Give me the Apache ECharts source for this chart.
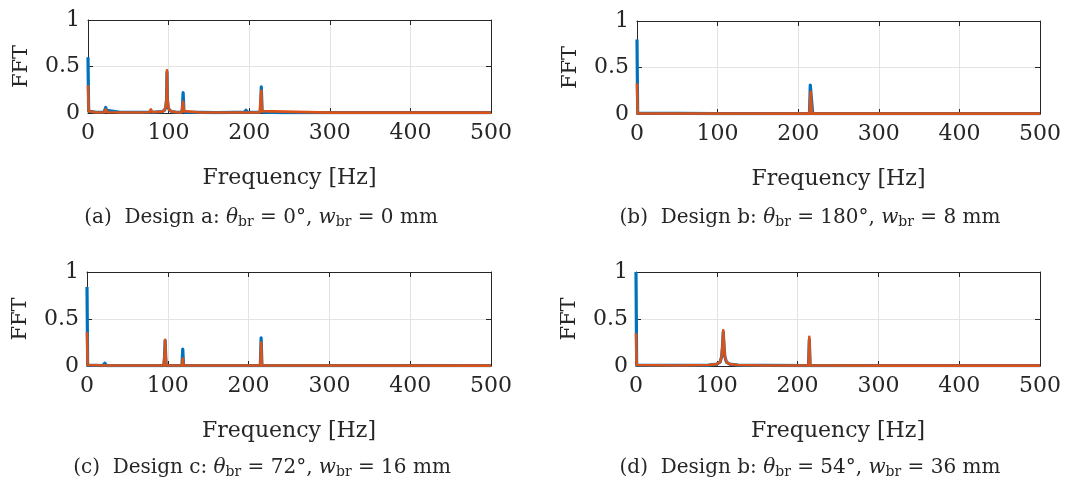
<!DOCTYPE html>
<html>
<head>
<meta charset="utf-8">
<script src="https://cdn.jsdelivr.net/npm/echarts@6/dist/echarts.min.js"></script>
<style>
  html, body { margin: 0; padding: 0; background: #fff; }
  #chart { width: 1091px; height: 486px; }
</style>
</head>
<body>
<div id="chart"></div>
<script>
// FFT amplitude spectra, [frequency Hz, amplitude] pairs per design
const blueA = [[0,0.60],[0.8,0.02],[10,0.008],[20,0.01],[21,0.03],[22,0.06],[23,0.03],[24,0.01],[40,0.006],[60,0.006],[76,0.008],[78,0.02],[80,0.008],[92,0.015],[95,0.03],[96.5,0.06],[97.5,0.15],[98,0.44],[98.5,0.15],[99.5,0.06],[101,0.03],[104,0.015],[110,0.008],[116,0.008],[117,0.03],[118,0.22],[119,0.03],[120,0.008],[140,0.006],[160,0.005],[180,0.006],[194,0.008],[195,0.02],[196,0.03],[197,0.02],[198,0.008],[213,0.008],[214,0.03],[215,0.28],[216,0.03],[217,0.008],[240,0.005],[300,0.005],[311,0.005],[312,0.012],[313,0.005],[400,0.004],[500,0.004]];
const redA = [[0,0.30],[0.8,0.02],[10,0.006],[20,0.008],[21,0.02],[22,0.04],[23,0.02],[24,0.008],[60,0.005],[76,0.008],[77,0.02],[78,0.04],[79,0.02],[80,0.008],[92,0.015],[95,0.03],[96.5,0.07],[97.5,0.16],[98,0.46],[98.5,0.16],[99.5,0.07],[101,0.03],[104,0.015],[110,0.008],[116,0.006],[117,0.02],[118,0.12],[119,0.02],[120,0.006],[140,0.005],[200,0.005],[213,0.006],[214,0.02],[215,0.24],[216,0.02],[217,0.006],[300,0.004],[500,0.004]];

const blueB = [[0,0.80],[0.8,0.01],[100,0.004],[214,0.004],[215,0.31],[217,0.31],[218,0.004],[500,0.004]];
const redB = [[0,0.33],[0.8,0.005],[214,0.004],[215.5,0.24],[217,0.004],[500,0.004]];

const blueC = [[0,0.84],[0.8,0.01],[20,0.005],[21,0.015],[22,0.03],[23,0.015],[24,0.005],[76,0.005],[77,0.01],[78,0.005],[95,0.005],[96,0.1],[96.7,0.27],[97.4,0.1],[98,0.005],[117.5,0.005],[118.5,0.18],[119.5,0.005],[194,0.005],[195,0.015],[196,0.005],[214.5,0.005],[215.5,0.30],[216.5,0.005],[500,0.004]];
const redC = [[0,0.36],[0.8,0.01],[21,0.005],[22,0.025],[23,0.005],[95,0.005],[96,0.1],[96.7,0.28],[97.4,0.1],[98,0.005],[117.5,0.005],[118.5,0.08],[119.5,0.005],[214.5,0.005],[215.5,0.25],[216.5,0.005],[500,0.004]];

const blueD = [[0,1.0],[0.8,0.01],[50,0.006],[90,0.01],[100,0.02],[104,0.04],[106,0.1],[107,0.2],[108,0.36],[109,0.2],[110,0.1],[112,0.04],[116,0.02],[126,0.01],[160,0.006],[213.5,0.005],[214.5,0.28],[215.5,0.005],[500,0.004]];
const redD = [[0,0.35],[0.8,0.01],[50,0.006],[90,0.01],[100,0.02],[104,0.04],[106,0.1],[107,0.22],[108,0.38],[109,0.22],[110,0.1],[112,0.04],[116,0.02],[126,0.01],[160,0.006],[213.5,0.005],[214.5,0.31],[215.5,0.005],[322,0.004],[323,0.015],[324,0.004],[500,0.004]];

// caption parts per panel: [letter, design, angle, width]
const captions = [
  ['(a)', 'Design a:', '0°', '0 mm'],
  ['(b)', 'Design b:', '180°', '8 mm'],
  ['(c)', 'Design c:', '72°', '16 mm'],
  ['(d)', 'Design b:', '54°', '36 mm']
];

const xTitle = 'Frequency [Hz]';
const yTitle = 'FFT';

const BLUE = '#0072BD';
const RED = '#D95319';
const INK = '#262626';
const FONT = 'DejaVu Serif';

const panels = [
  { grid: { left: 88, top: 20, width: 403, height: 93 }, blue: blueA, red: redA, cap: [261, 218] },
  { grid: { left: 637, top: 21, width: 403, height: 93 }, blue: blueB, red: redB, cap: [810, 218] },
  { grid: { left: 87, top: 272, width: 404, height: 94 }, blue: blueC, red: redC, cap: [262, 468] },
  { grid: { left: 636, top: 272, width: 404, height: 94 }, blue: blueD, red: redD, cap: [810, 468] }
];

const grid = [], xAxis = [], yAxis = [], series = [], graphic = [];

panels.forEach((p, i) => {
  grid.push(Object.assign({ containLabel: false }, p.grid));
  // bottom x axis with labels
  xAxis.push({
    type: 'value', gridIndex: i, min: 0, max: 500, interval: 100,
    name: xTitle, nameLocation: 'middle', nameGap: 54,
    nameTextStyle: { fontFamily: FONT, fontSize: 22, color: INK },
    axisLine: { show: true, onZero: false, lineStyle: { color: INK, width: 1 } },
    axisTick: { show: true, inside: true, length: 5, lineStyle: { color: INK } },
    axisLabel: { fontFamily: FONT, fontSize: 22, color: INK, margin: 9 },
    splitLine: { show: true, lineStyle: { color: '#e3e3e3', width: 1 } }
  });
  // top box edge
  xAxis.push({
    type: 'value', gridIndex: i, min: 0, max: 500, interval: 100, position: 'top',
    axisLine: { show: true, onZero: false, lineStyle: { color: INK, width: 1 } },
    axisTick: { show: true, inside: true, length: 5, lineStyle: { color: INK } },
    axisLabel: { show: false }, splitLine: { show: false }
  });
  yAxis.push({
    type: 'value', gridIndex: i, min: 0, max: 1, interval: 0.5,
    name: yTitle, nameLocation: 'middle', nameGap: 56, nameRotate: 90,
    nameTextStyle: { fontFamily: FONT, fontSize: 21, color: INK },
    axisLine: { show: true, onZero: false, lineStyle: { color: INK, width: 1 } },
    axisTick: { show: true, inside: true, length: 5, lineStyle: { color: INK } },
    axisLabel: { fontFamily: FONT, fontSize: 22, color: INK, margin: 8 },
    splitLine: { show: true, lineStyle: { color: '#e3e3e3', width: 1 } }
  });
  // right box edge
  yAxis.push({
    type: 'value', gridIndex: i, min: 0, max: 1, interval: 0.5, position: 'right',
    axisLine: { show: true, onZero: false, lineStyle: { color: INK, width: 1 } },
    axisTick: { show: true, inside: true, length: 5, lineStyle: { color: INK } },
    axisLabel: { show: false }, splitLine: { show: false }
  });
  series.push({
    type: 'line', xAxisIndex: 2 * i, yAxisIndex: 2 * i, data: p.blue,
    showSymbol: false, symbol: 'none', clip: true,
    lineStyle: { color: BLUE, width: 3.2, join: 'round' }, z: 3
  });
  series.push({
    type: 'line', xAxisIndex: 2 * i, yAxisIndex: 2 * i, data: p.red,
    showSymbol: false, symbol: 'none', clip: true,
    lineStyle: { color: RED, width: 2.6, join: 'round' }, z: 4
  });
  const c = captions[i];
  graphic.push({
    type: 'text', x: p.cap[0], y: p.cap[1],
    style: {
      text: c[0] + '  ' + c[1] + ' {i|θ}{s|br} = ' + c[2] + ', {i|w}{s|br} = ' + c[3],
      fontFamily: FONT, fontSize: 20, fill: INK,
      align: 'center', verticalAlign: 'middle',
      rich: {
        i: { fontFamily: FONT, fontSize: 20, fontStyle: 'italic', fill: INK },
        s: { fontFamily: FONT, fontSize: 14, fill: INK, verticalAlign: 'bottom', padding: [9, 0, 0, 0] }
      }
    }
  });
});

const chart = echarts.init(document.getElementById('chart'), null, { renderer: 'canvas' });
chart.setOption({
  animation: false,
  backgroundColor: '#ffffff',
  grid, xAxis, yAxis, series, graphic
});
</script>
</body>
</html>
